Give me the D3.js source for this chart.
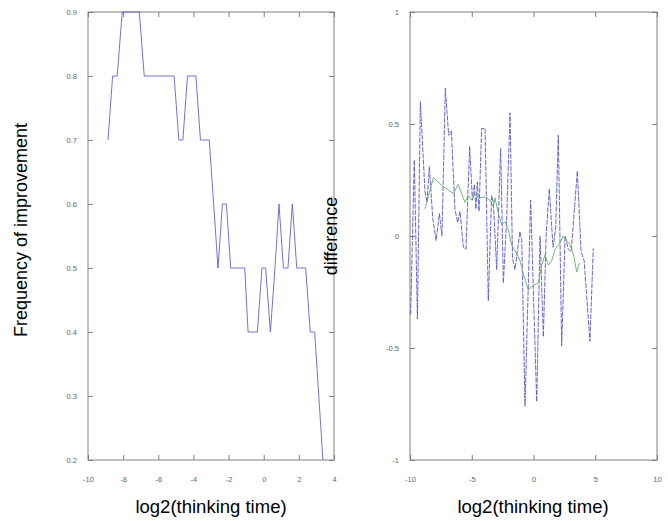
<!DOCTYPE html>
<html>
<head>
<meta charset="utf-8">
<script src="https://cdn.jsdelivr.net/npm/d3@7"></script>
<style>
  body { margin: 0; background: #fff; }
  svg { display: block; }
</style>
</head>
<body>
<svg width="668" height="521"></svg>
<script>
// left panel: frequency of improvement vs log2(thinking time)
var freqX = [-8.86, -8.6, -8.34, -8.05, -7.08, -6.8, -5.1, -4.83, -4.6, -4.34, -3.86, -3.6, -3.1,
             -2.6, -2.35, -2.12, -1.88, -1.08, -0.89, -0.36, -0.1, 0.11, 0.38, 0.64, 0.87, 1.12,
             1.38, 1.63, 1.88, 2.39, 2.65, 2.9, 3.37];
var freqY = [0.7, 0.8, 0.8, 0.9, 0.9, 0.8, 0.8, 0.7, 0.7, 0.8, 0.8, 0.7, 0.7,
             0.5, 0.6, 0.6, 0.5, 0.5, 0.4, 0.4, 0.5, 0.5, 0.4, 0.5, 0.6, 0.5,
             0.5, 0.6, 0.5, 0.5, 0.4, 0.4, 0.2];

// right panel: raw difference (blue, dashed) and smoothed (green)
var diffX = [-9.95, -9.65, -9.4, -9.16, -8.79, -8.62, -8.43, -8.16, -7.89, -7.62, -7.41, -7.14,
             -6.87, -6.65, -6.36, -6.14, -5.95, -5.68, -5.47, -5.17, -4.95, -4.79, -4.66, -4.55,
             -4.41, -4.2, -3.92, -3.66, -3.39, -3.25, -2.98, -2.66, -2.44, -2.18, -1.9, -1.7,
             -1.5, -1.1, -0.95, -0.69, -0.23, 0.26, 0.53, 0.8, 1.02, 1.28, 1.58, 1.8, 2.01,
             2.28, 2.56, 2.82, 3.05, 3.55, 3.85, 4.1, 4.57, 4.84];
var diffY = [-0.35, 0.34, -0.37, 0.6, 0.2, 0.15, 0.31, 0.08, -0.02, 0.1, 0.0, 0.66,
             0.45, 0.47, 0.12, 0.06, 0.11, -0.05, -0.06, 0.4, 0.16, 0.23, 0.12, 0.24,
             0.11, 0.48, 0.48, -0.29, 0.18, 0.15, -0.15, 0.39, -0.21, 0.07, 0.55, -0.1,
             -0.15, 0.02, -0.02, -0.76, 0.16, -0.74, 0.0, -0.45, 0.0, 0.21, -0.05, 0.04, 0.45,
             -0.49, 0.0, -0.06, -0.07, 0.29, -0.07, -0.11, -0.47, -0.055];

var smoothX = [-8.79, -8.11, -7.3, -6.49, -6.09, -5.55, -5.28, -5.0, -4.74, -4.47, -3.93, -3.52,
               -3.25, -3.12, -2.85, -2.58, -2.31, -2.04, -1.77, -1.36, -1.09, -0.82, -0.42, -0.02,
               0.39, 0.66, 0.93, 1.2, 1.47, 1.74, 2.15, 2.41, 2.69, 2.96, 3.22, 3.5, 3.71];
var smoothY = [0.12, 0.26, 0.22, 0.19, 0.23, 0.15, 0.18, 0.16, 0.19, 0.17, 0.175, 0.16,
               0.13, 0.17, 0.1, 0.05, 0.065, 0.03, -0.04, -0.08, -0.11, -0.17, -0.24, -0.22,
               -0.21, -0.13, -0.085, -0.13, -0.11, -0.06, -0.03, 0.0, -0.02, -0.04, -0.08, -0.16, -0.12];

var leftXTicks = [-10, -8, -6, -4, -2, 0, 2, 4];
var leftYTicks = [0.2, 0.3, 0.4, 0.5, 0.6, 0.7, 0.8, 0.9];
var rightXTicks = [-10, -5, 0, 5, 10];
var rightYTicks = [-1, -0.5, 0, 0.5, 1];

var svg = d3.select("svg");
var plotTop = 12, plotBottom = 460;

function panel(x0, x1, xDom, yDom, xTicks, yTicks) {
  var x = d3.scaleLinear().domain(xDom).range([x0, x1]),
      y = d3.scaleLinear().domain(yDom).range([plotBottom, plotTop]);
  var g = svg.append("g");
  var fmt = function(d) { return String(d); };

  g.append("rect")
      .attr("x", x0).attr("y", plotTop)
      .attr("width", x1 - x0).attr("height", plotBottom - plotTop)
      .attr("fill", "none").attr("stroke", "#808080");

  // ticks point inward on all four sides, labels only left and bottom
  var ax = [
    [d3.axisBottom(x).tickValues(xTicks).tickFormat(fmt).tickPadding(17), "translate(0," + plotBottom + ")"],
    [d3.axisTop(x).tickValues(xTicks).tickFormat(""), "translate(0," + plotTop + ")"],
    [d3.axisLeft(y).tickValues(yTicks).tickFormat(fmt).tickPadding(11), "translate(" + x0 + ",0)"],
    [d3.axisRight(y).tickValues(yTicks).tickFormat(""), "translate(" + x1 + ",0)"]
  ];
  ax.forEach(function(a) {
    var s = g.append("g").attr("transform", a[1])
        .call(a[0].tickSizeInner(-5).tickSizeOuter(0));
    s.select(".domain").remove();
    s.selectAll("line").attr("stroke", "#808080");
    s.selectAll("text").attr("fill", "#666").attr("font-size", 7.5)
        .attr("font-family", "Liberation Sans, Arial, sans-serif");
  });
  return {x: x, y: y, g: g};
}

var L = panel(88, 334, [-10, 4], [0.2, 0.9], leftXTicks, leftYTicks);
var R = panel(410, 657, [-10, 10], [-1, 1], rightXTicks, rightYTicks);

function drawLine(p, xs, ys, color, dash) {
  var line = d3.line()
      .x(function(d, i) { return p.x(xs[i]); })
      .y(function(d, i) { return p.y(ys[i]); });
  p.g.append("path")
      .attr("d", line(xs))
      .attr("fill", "none")
      .attr("stroke", color)
      .attr("stroke-width", 0.9)
      .attr("stroke-dasharray", dash || null);
}

drawLine(L, freqX, freqY, "#6262d6");
drawLine(R, diffX, diffY, "#5656d2", "5,1.2");
drawLine(R, smoothX, smoothY, "#6aac6a");

// axis titles
var font = "Liberation Sans, Arial, sans-serif";
svg.append("text").attr("x", 211).attr("y", 513).attr("text-anchor", "middle")
    .attr("font-family", font).attr("font-size", 18.5).text("log2(thinking time)");
svg.append("text").attr("x", 533).attr("y", 513).attr("text-anchor", "middle")
    .attr("font-family", font).attr("font-size", 18.5).text("log2(thinking time)");
svg.append("text").attr("transform", "translate(27,230) rotate(-90)").attr("text-anchor", "middle")
    .attr("font-family", font).attr("font-size", 18).text("Frequency of improvement");
svg.append("text").attr("transform", "translate(337,236) rotate(-90)").attr("text-anchor", "middle")
    .attr("font-family", font).attr("font-size", 18).text("difference");
</script>
</body>
</html>
